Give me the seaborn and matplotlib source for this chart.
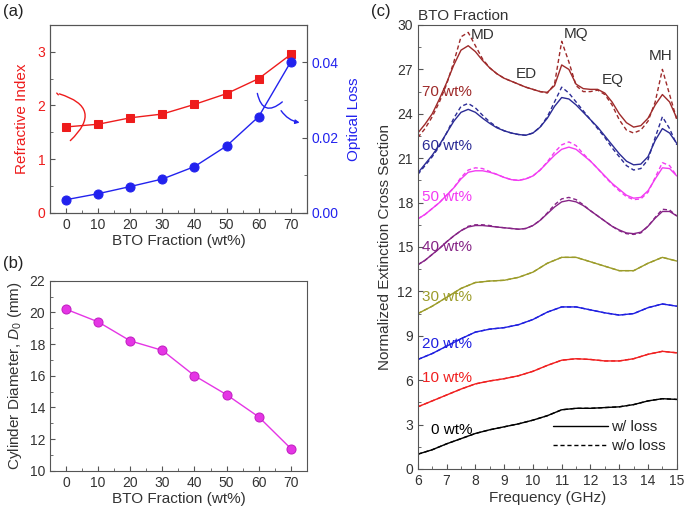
import numpy as np
import seaborn as sns
import matplotlib.pyplot as plt
from matplotlib.lines import Line2D
from matplotlib.ticker import MultipleLocator

# ---- data ----
bto = [0, 10, 20, 30, 40, 50, 60, 70]
refr_index = [1.60, 1.65, 1.77, 1.84, 2.02, 2.22, 2.50, 2.95]
optical_loss = [0.0035, 0.0051, 0.0070, 0.0090, 0.0123, 0.0178, 0.0256, 0.0402]
diameter = [20.2, 19.4, 18.2, 17.6, 16.0, 14.8, 13.4, 11.4]

# spectra, 0.5 GHz grid for the low fractions, 0.25 GHz grid for the high ones
freq_coarse = np.linspace(6, 15, 19)
freq_fine = np.linspace(6, 15, 37)

ext_0 = [1.0, 1.3, 1.7, 2.05, 2.4, 2.65, 2.85, 3.05, 3.3, 3.6, 4.0, 4.1, 4.1, 4.15,
         4.2, 4.35, 4.6, 4.75, 4.7]
ext_10 = [4.2, 4.6, 5.0, 5.4, 5.75, 5.95, 6.1, 6.3, 6.6, 7.0, 7.35, 7.45, 7.4, 7.3,
          7.3, 7.45, 7.75, 7.95, 7.85]
ext_20 = [7.4, 7.8, 8.3, 8.8, 9.25, 9.45, 9.55, 9.75, 10.1, 10.6, 10.95, 10.95, 10.75,
          10.55, 10.4, 10.5, 10.9, 11.15, 11.0]
ext_30 = [10.5, 11.0, 11.6, 12.2, 12.6, 12.7, 12.75, 12.95, 13.3, 13.9, 14.3, 14.3, 14.0,
          13.7, 13.4, 13.4, 13.9, 14.3, 14.05]

ext_40 = [13.8, 14.1, 14.5, 14.9, 15.35, 15.75, 16.1, 16.35, 16.45, 16.45, 16.4, 16.35,
          16.3, 16.25, 16.2, 16.25, 16.45, 16.8, 17.25, 17.7, 18.05, 18.15, 18.05, 17.8,
          17.45, 17.1, 16.75, 16.4, 16.15, 15.95, 15.9, 16.0, 16.4, 16.95, 17.4, 17.4, 17.1]
ext_40_nl = [13.8, 14.1, 14.5, 14.9, 15.35, 15.75, 16.1, 16.4, 16.5, 16.5, 16.45, 16.35,
             16.3, 16.25, 16.2, 16.25, 16.45, 16.8, 17.3, 17.85, 18.25, 18.35, 18.2, 17.85,
             17.45, 17.1, 16.75, 16.4, 16.1, 15.9, 15.85, 15.95, 16.4, 17.0, 17.55, 17.5, 17.1]
ext_50 = [16.9, 17.2, 17.6, 18.0, 18.5, 19.0, 19.6, 20.05, 20.15, 20.15, 20.05, 19.9,
          19.7, 19.55, 19.5, 19.6, 19.8, 20.2, 20.7, 21.2, 21.6, 21.75, 21.6, 21.2,
          20.8, 20.3, 19.8, 19.3, 18.9, 18.5, 18.3, 18.35, 18.8, 19.6, 20.35, 20.3, 19.8]
ext_50_nl = [16.9, 17.2, 17.6, 18.0, 18.5, 19.0, 19.7, 20.2, 20.35, 20.3, 20.1, 19.9,
             19.7, 19.55, 19.5, 19.6, 19.8, 20.2, 20.75, 21.4, 21.9, 22.1, 21.85, 21.3,
             20.8, 20.3, 19.75, 19.25, 18.8, 18.4, 18.2, 18.25, 18.7, 19.7, 20.7, 20.5, 19.8]
ext_60 = [20.0, 20.6, 21.2, 21.9, 22.7, 23.5, 24.1, 24.3, 24.1, 23.7, 23.35, 23.05,
          22.85, 22.7, 22.6, 22.55, 22.7, 23.1, 23.7, 24.5, 25.1, 25.0, 24.6, 24.1,
          23.6, 23.1, 22.5, 21.9, 21.3, 20.8, 20.55, 20.6, 21.1, 22.2, 23.0, 22.7, 22.0]
ext_60_nl = [19.9, 20.5, 21.1, 21.8, 22.7, 23.7, 24.5, 24.7, 24.4, 23.9, 23.45, 23.1,
             22.85, 22.7, 22.6, 22.55, 22.7, 23.1, 23.8, 24.8, 25.8, 25.4, 24.8, 24.2,
             23.6, 23.0, 22.4, 21.7, 21.1, 20.5, 20.2, 20.3, 20.9, 22.4, 23.8, 23.0, 21.9]
ext_70 = [22.7, 23.3, 24.0, 25.0, 26.1, 27.3, 28.3, 28.6, 28.2, 27.6, 27.1, 26.7,
          26.4, 26.2, 26.0, 25.8, 25.65, 25.5, 25.45, 25.9, 27.3, 27.0, 26.0, 25.7,
          25.65, 25.65, 25.4, 24.8, 24.0, 23.4, 23.1, 23.2, 23.7, 24.6, 25.3, 24.8, 23.7]
ext_70_nl = [22.4, 23.0, 23.8, 24.8, 26.0, 27.5, 29.2, 29.5, 28.6, 27.7, 27.1, 26.7,
             26.4, 26.2, 26.0, 25.8, 25.65, 25.5, 25.4, 26.0, 28.9, 27.5, 25.9, 25.5,
             25.5, 25.6, 25.3, 24.6, 23.6, 22.9, 22.7, 22.9, 23.5, 24.8, 27.0, 25.3, 23.6]

frac_labels = ["0 wt%", "10 wt%", "20 wt%", "30 wt%", "40 wt%", "50 wt%", "60 wt%", "70 wt%"]
label_y = [2.65, 6.15, 8.45, 11.65, 15.0, 18.4, 21.85, 25.5]
colors = ["black", "#f02020", "#1f1fe0", "#9c9c2a", "#862486", "#f23cf2", "#2b2b95", "#9e2a2a"]

spectra = [
    (freq_coarse, ext_0, ext_0),
    (freq_coarse, ext_10, ext_10),
    (freq_coarse, ext_20, ext_20),
    (freq_coarse, ext_30, ext_30),
    (freq_fine, ext_40, ext_40_nl),
    (freq_fine, ext_50, ext_50_nl),
    (freq_fine, ext_60, ext_60_nl),
    (freq_fine, ext_70, ext_70_nl),
]

sns.set_style("ticks")
plt.rcParams["font.family"] = ["Liberation Sans", "DejaVu Sans"]
plt.rcParams["mathtext.fontset"] = "custom"
plt.rcParams["mathtext.rm"] = "Liberation Sans"
plt.rcParams["mathtext.it"] = "Liberation Sans:italic"
plt.rcParams["xtick.direction"] = "in"
plt.rcParams["ytick.direction"] = "in"
plt.rcParams["axes.edgecolor"] = "#555555"
plt.rcParams["xtick.color"] = "#555555"
plt.rcParams["ytick.color"] = "#555555"
plt.rcParams["xtick.labelcolor"] = "#333333"
plt.rcParams["ytick.labelcolor"] = "#333333"
plt.rcParams["axes.labelcolor"] = "#333333"

fig = plt.figure(figsize=(6.85, 5.08), dpi=100)
ax_a = fig.add_axes([0.073, 0.581, 0.375, 0.370])
ax_b = fig.add_axes([0.073, 0.0734, 0.375, 0.374])
ax_c = fig.add_axes([0.610, 0.0768, 0.378, 0.874])

tick_fs = 10
lab_fs = 11

# ---- (a) ----
sns.lineplot(x=bto, y=refr_index, marker="s", markersize=6, color="#ee1c1c",
             markeredgecolor="#ee1c1c", linewidth=1, ax=ax_a)
ax_a2 = ax_a.twinx()
sns.lineplot(x=bto, y=optical_loss, marker="o", markersize=6.5, color="#2222ee",
             markeredgecolor="#2222ee", linewidth=1, ax=ax_a2)
ax_a.set_xlim(-5, 75)
ax_a.set_ylim(0, 3.5)
ax_a2.set_ylim(0, 0.05)
ax_a.xaxis.set_major_locator(MultipleLocator(10))
ax_a.xaxis.set_minor_locator(MultipleLocator(5))
ax_a.yaxis.set_major_locator(MultipleLocator(1))
ax_a.yaxis.set_minor_locator(MultipleLocator(0.5))
ax_a2.yaxis.set_major_locator(MultipleLocator(0.02))
ax_a2.yaxis.set_minor_locator(MultipleLocator(0.01))
ax_a2.set_yticks([0, 0.02, 0.04], ["0.00", "0.02", "0.04"])
ax_a.set_xlabel("BTO Fraction (wt%)", fontsize=lab_fs, labelpad=2)
ax_a.set_ylabel("Refractive Index", fontsize=lab_fs, color="#ee1c1c", labelpad=6)
ax_a2.set_ylabel("Optical Loss", fontsize=lab_fs, color="#2222ee", labelpad=6)
ax_a.tick_params(axis="y", which="both", labelcolor="#ee1c1c", labelsize=tick_fs)
ax_a.tick_params(axis="x", labelsize=tick_fs)
ax_a2.tick_params(axis="y", which="both", labelcolor="#2222ee", labelsize=tick_fs)
for spine in ax_a2.spines.values():
    spine.set_color("#555555")

# curved arrows pointing to the axes
ax_a.annotate("", xy=(0.7, 1.31), xytext=(-2.9, 2.23),
              arrowprops=dict(arrowstyle="-", color="#ee1c1c", lw=1,
                              connectionstyle="arc3,rad=-0.9"))
ax_a.annotate("", xy=(-2.9, 2.23), xytext=(-1.8, 2.16),
              arrowprops=dict(arrowstyle="-", color="#ee1c1c", lw=1))
ax_a2.annotate("", xy=(68.0, 0.0300), xytext=(59.4, 0.0325),
               arrowprops=dict(arrowstyle="-", color="#2222ee", lw=1,
                               connectionstyle="arc3,rad=0.9"))
ax_a2.annotate("", xy=(73.6, 0.0239), xytext=(66.5, 0.0278),
               arrowprops=dict(arrowstyle="-|>", color="#2222ee", lw=1, mutation_scale=6,
                               connectionstyle="arc3,rad=0.25"))

fig.text(0.005, 0.992, "(a)", fontsize=12, va="top", ha="left", color="#222222")

# ---- (b) ----
sns.lineplot(x=bto, y=diameter, marker="o", markersize=6.5, color="#e535e5",
             markeredgecolor="#c21fc2", linewidth=1, ax=ax_b)
ax_b.set_xlim(-5, 75)
ax_b.set_ylim(10, 22)
ax_b.xaxis.set_major_locator(MultipleLocator(10))
ax_b.xaxis.set_minor_locator(MultipleLocator(5))
ax_b.yaxis.set_major_locator(MultipleLocator(2))
ax_b.yaxis.set_minor_locator(MultipleLocator(1))
ax_b.tick_params(labelsize=tick_fs)
ax_b.set_xlabel("BTO Fraction (wt%)", fontsize=lab_fs, labelpad=2)
ax_b.set_ylabel(r"Cylinder Diameter, $\mathit{D}_0$ (mm)", fontsize=lab_fs, labelpad=4)
fig.text(0.005, 0.497, "(b)", fontsize=12, va="top", ha="left", color="#222222")

# ---- (c) ----
for (fq, solid, dashed), col, lab, ly in zip(spectra, colors, frac_labels, label_y):
    sns.lineplot(x=fq, y=dashed, color=col, linewidth=1, dashes=False, ax=ax_c)
    ax_c.lines[-1].set_linestyle((0, (3, 2)))
    sns.lineplot(x=fq, y=solid, color=col, linewidth=1, ax=ax_c)
    lx = 6.45 if lab == "0 wt%" else 6.15
    ax_c.text(lx, ly, lab, color=col, fontsize=lab_fs, va="center", ha="left")

ax_c.set_xlim(6, 15)
ax_c.set_ylim(0, 30)
ax_c.xaxis.set_major_locator(MultipleLocator(1))
ax_c.xaxis.set_minor_locator(MultipleLocator(0.5))
ax_c.yaxis.set_major_locator(MultipleLocator(3))
ax_c.yaxis.set_minor_locator(MultipleLocator(1.5))
ax_c.tick_params(labelsize=tick_fs)
ax_c.set_xlabel("Frequency (GHz)", fontsize=lab_fs, labelpad=2)
ax_c.set_ylabel("Normalized Extinction Cross Section", fontsize=lab_fs, labelpad=4)

for txt, tx, ty in [("MD", 8.25, 29.35), ("MQ", 11.5, 29.4), ("ED", 9.77, 26.7),
                    ("EQ", 12.77, 26.3), ("MH", 14.45, 27.9)]:
    ax_c.text(tx, ty, txt, fontsize=lab_fs, ha="center", va="center", color="#333333")
ax_c.text(6.0, 30.15, "BTO Fraction", fontsize=lab_fs, ha="left", va="bottom", color="#333333")

handles = [Line2D([], [], color="black", lw=1),
           Line2D([], [], color="black", lw=1, linestyle=(0, (3, 2)))]
ax_c.legend(handles, ["w/ loss", "w/o loss"], loc="lower right", frameon=False,
            fontsize=lab_fs, handlelength=3.6, handletextpad=0.2, labelspacing=0.3,
            bbox_to_anchor=(1.01, 0.005))
fig.text(0.541, 0.992, "(c)", fontsize=12, va="top", ha="left", color="#222222")

fig.savefig("out.png", dpi=100)
